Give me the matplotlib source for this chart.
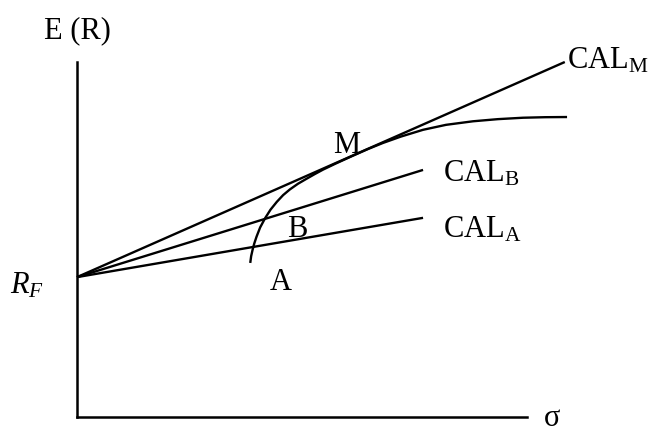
import matplotlib.pyplot as plt

plt.rcParams['font.family'] = 'Liberation Serif'
plt.rcParams['mathtext.fontset'] = 'custom'
plt.rcParams['mathtext.rm'] = 'Liberation Serif'
plt.rcParams['mathtext.it'] = 'Liberation Serif:italic'

# risk-free rate and end points of the capital allocation lines
rf = 39.4
cal_names = ['M', 'B', 'A']
cal_end_sigma = [108.4, 76.9, 76.9]
cal_end_ret = [100.0, 69.6, 56.1]

# efficient frontier (sigma, expected return)
frontier_sigma = [38.5, 38.7, 39.0, 39.4, 39.9, 40.7, 41.8, 43.0, 44.4, 45.8,
                  47.3, 49.1, 51.0, 52.8, 54.7, 57.5, 61.3, 64.6, 68.0, 72.0,
                  76.9, 82.0, 88.0, 93.5, 99.1, 104.0, 108.9]
frontier_ret = [43.4, 45.3, 47.0, 48.9, 50.8, 53.4, 56.0, 58.4, 60.6, 62.5,
                64.1, 65.7, 67.1, 68.4, 69.7, 71.4, 73.6, 75.45, 77.2, 79.0,
                80.9, 82.3, 83.3, 83.9, 84.3, 84.45, 84.5]

fig = plt.figure(figsize=(6.5, 4.34), dpi=100)
ax = fig.add_axes([77 / 650, 17 / 434, 450 / 650, 355 / 434])
ax.set_xlim(0, 100)
ax.set_ylim(0, 100)

for s in ['top', 'right']:
    ax.spines[s].set_visible(False)
for s in ['left', 'bottom']:
    ax.spines[s].set_linewidth(1.8)
ax.set_xticks([])
ax.set_yticks([])

lw = 1.7
for name, xs, ys in zip(cal_names, cal_end_sigma, cal_end_ret):
    ax.plot([0, xs], [rf, ys], color='black', lw=lw, clip_on=False,
            solid_capstyle='butt')

ax.plot(frontier_sigma, frontier_ret, color='black', lw=lw, clip_on=False,
        solid_joinstyle='round', solid_capstyle='butt')

fs = 22
ax.text(108.9, 98.3, r'CAL$_\mathrm{M}$', fontsize=fs, va='baseline', clip_on=False)
ax.text(81.3, 66.2, r'CAL$_\mathrm{B}$', fontsize=fs, va='baseline')
ax.text(81.3, 50.7, r'CAL$_\mathrm{A}$', fontsize=fs, va='baseline')
ax.text(56.9, 74.4, 'M', fontsize=fs, va='baseline')
ax.text(46.7, 50.7, 'B', fontsize=fs, va='baseline')
ax.text(42.9, 35.8, 'A', fontsize=fs, va='baseline')
ax.text(-7.3, 106.8, 'E (R)', fontsize=fs, va='baseline', clip_on=False)
ax.text(-14.9, 34.9, r'$R_F$', fontsize=fs, va='baseline', clip_on=False)
ax.text(103.8, -2.6, 'σ', fontsize=fs, va='baseline', clip_on=False)

fig.savefig('out.png', dpi=100)
